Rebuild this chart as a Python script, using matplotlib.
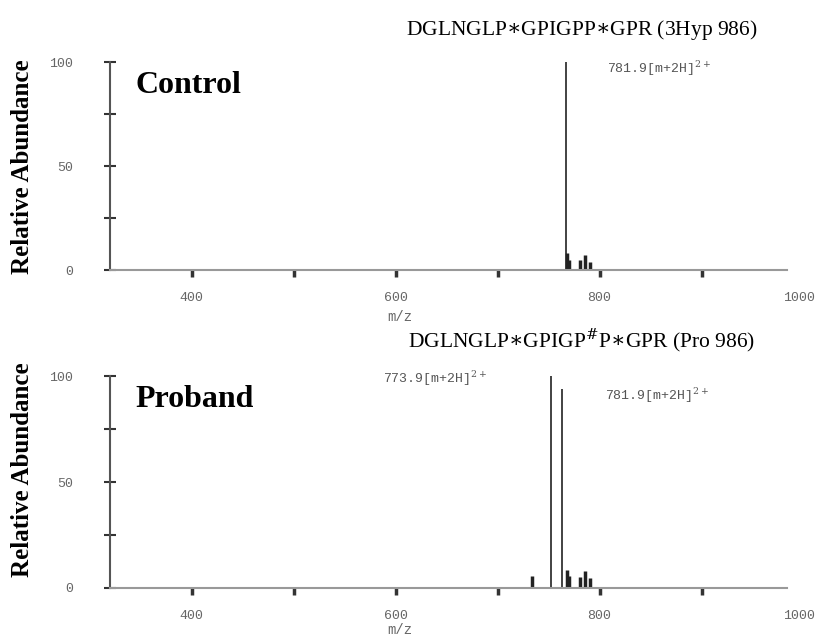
import numpy as np
import matplotlib
matplotlib.use("Agg")
import matplotlib.pyplot as plt
import matplotlib.transforms as mtransforms

plt.rcParams["mathtext.fontset"] = "dejavuserif"

# peak lists (m/z, relative abundance)
control_mz = [767.0, 767.8, 769.8, 781.0, 785.5, 791.0]
control_int = [100, 8, 5, 5, 7.5, 4]
control_lw = [1.2, 2.5, 2.5, 2.5, 2.5, 2.5]

proband_mz = [733.8, 752.0, 763.0, 767.6, 769.8, 780.9, 785.2, 790.4]
proband_int = [5.5, 100, 94, 8.5, 5.5, 5, 8, 4.5]
proband_lw = [2.5, 1.2, 1.2, 2.5, 2.5, 2.5, 2.5, 2.5]

xticks = [400, 500, 600, 700, 800, 900]
xticklabels = ["400", "", "600", "", "800", ""]

titles = ["DGLNGLP$\\ast$GPIGPP$\\ast$GPR (3Hyp 986)",
          "DGLNGLP$\\ast$GPIGP$^{\\#}$P$\\ast$GPR (Pro 986)"]
names = ["Control", "Proband"]
notes = [[(807, 97, "781.9[m+2H]$^{2+}$")],
         [(588, 99, "773.9[m+2H]$^{2+}$"), (805, 91, "781.9[m+2H]$^{2+}$")]]

serif = ["Liberation Serif", "DejaVu Serif"]
mono = "Liberation Mono"
gray = "#666666"

fig = plt.figure(figsize=(8.27, 6.37), dpi=100)

ax_top = fig.add_axes([0.133, 0.576, 0.819, 0.326])
ax_bot = fig.add_axes([0.133, 0.077, 0.819, 0.332])

data = [(control_mz, control_int, control_lw), (proband_mz, proband_int, proband_lw)]
title_y = [0.953, 0.466]
ylab_y = [0.738, 0.262]
mz_off = [-34, -30]

for i, ax in enumerate([ax_top, ax_bot]):
    mz, inten, lw = data[i]
    ax.vlines(mz, 0, inten, colors="#222222", linewidths=lw)
    ax.set_xlim(320, 984)
    ax.set_ylim(0, 100)
    for s in ["top", "right"]:
        ax.spines[s].set_visible(False)
    ax.spines["left"].set_color("#555555")
    ax.spines["left"].set_linewidth(1.5)
    ax.spines["bottom"].set_color("#999999")
    ax.spines["bottom"].set_linewidth(1.5)

    ax.set_xticks(xticks)
    ax.set_xticklabels(xticklabels, fontfamily=mono, fontsize=9.5, color=gray)
    ax.tick_params(axis="x", direction="out", length=5, width=2.5, color="#333333", pad=11)

    ax.set_yticks([0, 50, 100])
    ax.set_yticklabels(["0", "50", "100"], fontfamily=mono, fontsize=9.5, color=gray)
    ax.set_yticks([25, 75], minor=True)
    ax.tick_params(axis="y", which="both", direction="inout", length=9, width=1.5,
                   color="#333333", pad=22)

    # 1000 label sits past the end of the axis
    trans = mtransforms.blended_transform_factory(ax.transData, ax.transAxes)
    ax.annotate("1000", xy=(1000, 0), xycoords=trans, xytext=(-3, -20),
                textcoords="offset points", ha="center", va="center",
                fontfamily=mono, fontsize=9.5, color=gray, annotation_clip=False)
    ax.annotate("m/z", xy=(604, 0), xycoords=trans, xytext=(0, mz_off[i]),
                textcoords="offset points", ha="center", va="center",
                fontfamily=mono, fontsize=10, color=gray, annotation_clip=False)

    ax.text(0.037, 0.89, names[i], transform=ax.transAxes, va="center",
            family=serif, fontsize=23, fontweight="bold")
    for x, y, t in notes[i]:
        ax.text(x, y, t, fontfamily=mono, fontsize=9.5, color="#555555", va="center")

    fig.text(0.703, title_y[i], titles[i], ha="center", va="center",
             family=serif, fontsize=15.5)
    fig.text(0.027, ylab_y[i], "Relative Abundance", rotation=90, ha="center", va="center",
             family=serif, fontsize=18, fontweight="bold")

fig.savefig("out.png", dpi=100)
